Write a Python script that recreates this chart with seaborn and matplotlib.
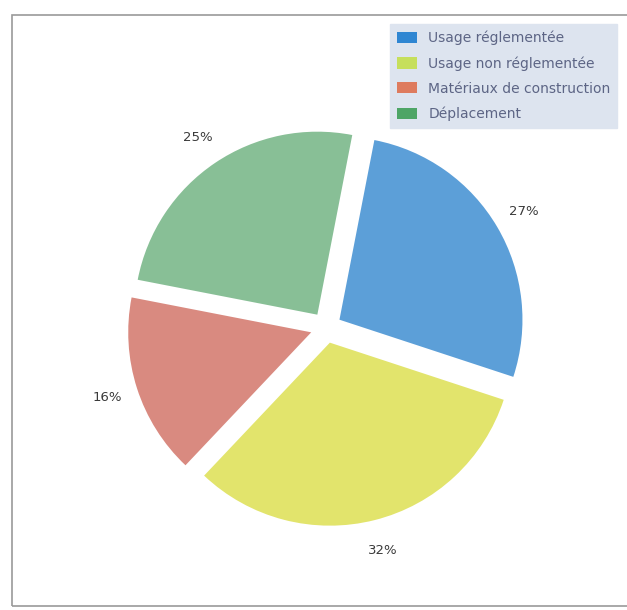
import matplotlib
matplotlib.use("Agg")
import matplotlib.pyplot as plt
from matplotlib.patches import Rectangle, Patch
import seaborn as sns

categories = ["Usage réglementée", "Usage non réglementée", "Matériaux de construction", "Déplacement"]
values = [27, 32, 16, 25]
pie_colors = ["#5c9fd8", "#e2e46c", "#d98a80", "#88bf96"]
legend_colors = ["#2f86d2", "#c6df5c", "#de7b5e", "#4ea566"]

sns.set_theme(style="white")
plt.rcParams['font.family'] = ['DejaVu Sans']

fig = plt.figure(figsize=(6.27, 6.10), dpi=100)
fig.patch.set_facecolor("white")
ax = fig.add_axes([0.155, 0.088, 0.73, 0.75])

palette = sns.color_palette(pie_colors)
wedges, texts, autotexts = ax.pie(
    values, colors=palette, startangle=79, counterclock=False,
    explode=[0.085] * len(values), autopct="%d%%", pctdistance=1.17,
    textprops=dict(color="#3a3a3a", fontsize=9.5),
    wedgeprops=dict(linewidth=0),
)
ax.set_aspect("equal")

# outer frame
fig.patches.append(Rectangle((12 / 627, 4 / 610), 1.0, 1 - 15 / 610 - 4 / 610,
                             transform=fig.transFigure, fill=False,
                             edgecolor="#9a9a9a", linewidth=1.2))

handles = [Patch(facecolor=c, edgecolor="none") for c in sns.color_palette(legend_colors)]
leg = fig.legend(handles, categories, loc="upper left",
                 bbox_to_anchor=(390 / 627, 1 - 24 / 610),
                 frameon=True, fancybox=False, fontsize=10,
                 handlelength=1.45, handleheight=0.85, handletextpad=0.8,
                 labelspacing=0.78, borderpad=0.5, borderaxespad=0)
leg.get_frame().set_facecolor("#dde4ef")
leg.get_frame().set_edgecolor("#dde4ef")
leg.get_frame().set_alpha(1)
for t in leg.get_texts():
    t.set_color("#5d6585")

fig.savefig("out.png", dpi=100, facecolor="white")
